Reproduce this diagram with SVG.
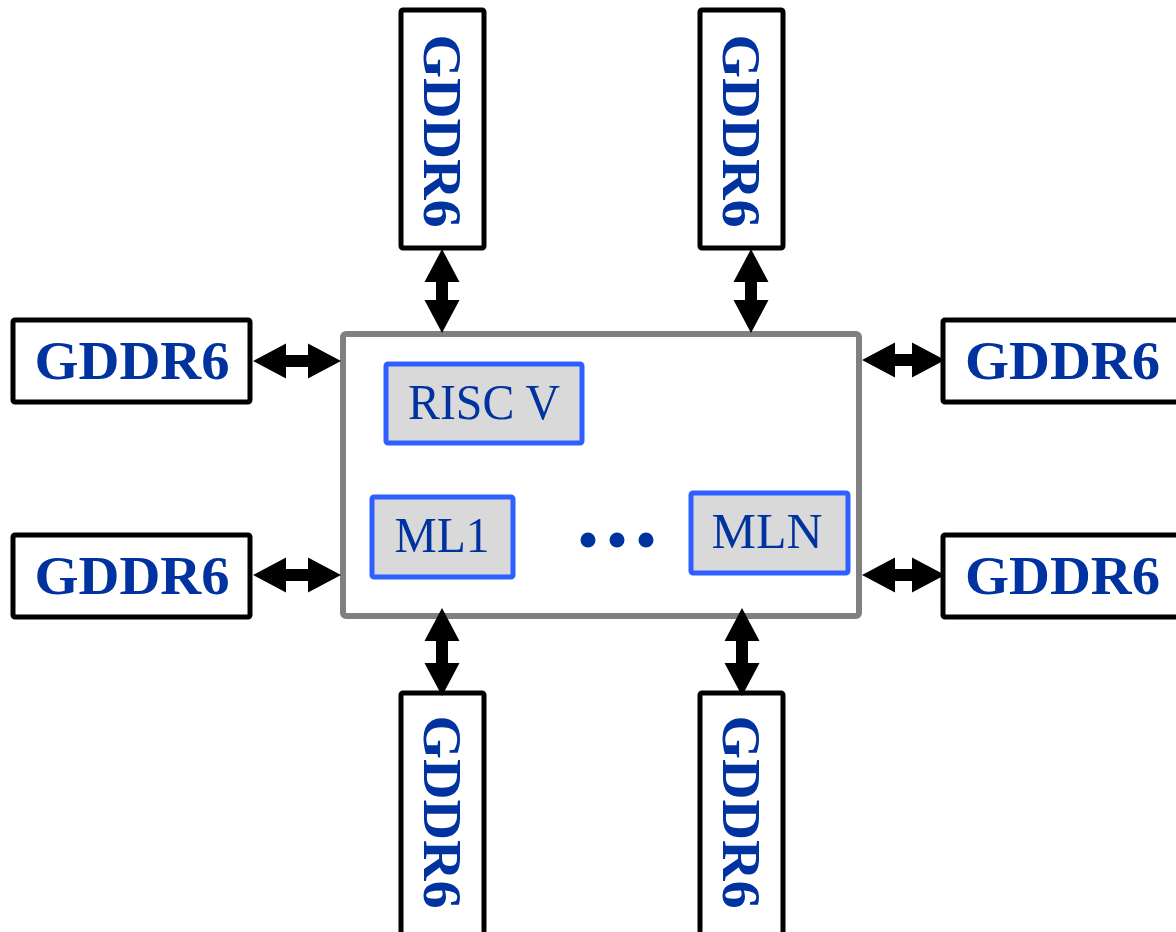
<svg xmlns="http://www.w3.org/2000/svg" width="1176" height="932" viewBox="0 0 1176 932">
  <style>
    .mem { fill: #ffffff; stroke: #000000; stroke-width: 5; }
    .memtxt { font-family: "Liberation Serif", "DejaVu Serif", serif; font-weight: bold; font-size: 54px; fill: #0033a0; }
    .chip { fill: #ffffff; stroke: #808080; stroke-width: 6; }
    .core { fill: #d9d9d9; stroke: #2f5fff; stroke-width: 5; }
    .coretxt { font-family: "Liberation Serif", "DejaVu Serif", serif; font-size: 50px; fill: #0033a0; text-anchor: middle; }
    .arrow { fill: #000000; }
  </style>

  <!-- Processor die -->
  <g id="chip">
    <rect class="chip" x="343" y="334" width="516" height="282" rx="3"/>
  </g>
  <g id="risc-v">
    <rect class="core" x="386" y="364" width="196" height="79" rx="2"/>
    <text class="coretxt" x="484" y="419" textLength="152" lengthAdjust="spacingAndGlyphs">RISC V</text>
  </g>
  <g id="ml1">
    <rect class="core" x="372" y="497" width="141" height="80" rx="2"/>
    <text class="coretxt" x="442" y="552" textLength="95" lengthAdjust="spacingAndGlyphs">ML1</text>
  </g>
  <g id="ellipsis">
    <circle cx="588" cy="540" r="7.5" fill="#0033a0"/>
    <circle cx="617" cy="540" r="7.5" fill="#0033a0"/>
    <circle cx="646" cy="540" r="7.5" fill="#0033a0"/>
  </g>
  <g id="mln">
    <rect class="core" x="691" y="493" width="157" height="80" rx="2"/>
    <text class="coretxt" x="767" y="548" textLength="111" lengthAdjust="spacingAndGlyphs">MLN</text>
  </g>

  <!-- Memory devices: top -->
  <g id="mem-top-left">
    <rect class="mem" x="401" y="10" width="83" height="238" rx="2"/>
    <text class="memtxt" transform="translate(442,131) rotate(90)" x="0" y="18" text-anchor="middle" textLength="193" lengthAdjust="spacingAndGlyphs">GDDR6</text>
  </g>
  <g id="mem-top-right">
    <rect class="mem" x="700" y="10" width="83" height="238" rx="2"/>
    <text class="memtxt" transform="translate(741,131) rotate(90)" x="0" y="18" text-anchor="middle" textLength="193" lengthAdjust="spacingAndGlyphs">GDDR6</text>
  </g>

  <!-- Memory devices: left -->
  <g id="mem-left-top">
    <rect class="mem" x="13" y="320" width="237" height="82" rx="2"/>
    <text class="memtxt" x="132" y="379" text-anchor="middle" textLength="195" lengthAdjust="spacingAndGlyphs">GDDR6</text>
  </g>
  <g id="mem-left-bottom">
    <rect class="mem" x="13" y="535" width="237" height="82" rx="2"/>
    <text class="memtxt" x="132" y="594" text-anchor="middle" textLength="195" lengthAdjust="spacingAndGlyphs">GDDR6</text>
  </g>

  <!-- Memory devices: right -->
  <g id="mem-right-top">
    <rect class="mem" x="943" y="320" width="260" height="82" rx="2"/>
    <text class="memtxt" x="965" y="379" textLength="195" lengthAdjust="spacingAndGlyphs">GDDR6</text>
  </g>
  <g id="mem-right-bottom">
    <rect class="mem" x="943" y="535" width="260" height="82" rx="2"/>
    <text class="memtxt" x="965" y="594" textLength="195" lengthAdjust="spacingAndGlyphs">GDDR6</text>
  </g>

  <!-- Memory devices: bottom -->
  <g id="mem-bottom-left">
    <rect class="mem" x="401" y="693" width="83" height="260" rx="2"/>
    <text class="memtxt" transform="translate(442,812) rotate(90)" x="0" y="18" text-anchor="middle" textLength="193" lengthAdjust="spacingAndGlyphs">GDDR6</text>
  </g>
  <g id="mem-bottom-right">
    <rect class="mem" x="700" y="693" width="83" height="260" rx="2"/>
    <text class="memtxt" transform="translate(741,812) rotate(90)" x="0" y="18" text-anchor="middle" textLength="193" lengthAdjust="spacingAndGlyphs">GDDR6</text>
  </g>

  <!-- Bidirectional links between die and memories -->
  <g id="connectors" class="arrow">
    <!-- vertical, top -->
    <path d="M442 249 L459.5 282 L448 282 L448 300 L459.5 300 L442 333 L424.5 300 L436 300 L436 282 L424.5 282 Z"/>
    <path d="M751 249 L768.5 282 L757 282 L757 300 L768.5 300 L751 333 L733.5 300 L745 300 L745 282 L733.5 282 Z"/>
    <!-- vertical, bottom -->
    <path d="M442 608 L459.5 641 L448 641 L448 663 L459.5 663 L442 696 L424.5 663 L436 663 L436 641 L424.5 641 Z"/>
    <path d="M742 608 L759.5 641 L748 641 L748 663 L759.5 663 L742 696 L724.5 663 L736 663 L736 641 L724.5 641 Z"/>
    <!-- horizontal, left -->
    <path d="M253 361 L286 343.5 L286 355 L308 355 L308 343.5 L341 361 L308 378.5 L308 367 L286 367 L286 378.5 Z"/>
    <path d="M253 575 L286 557.5 L286 569 L308 569 L308 557.5 L341 575 L308 592.5 L308 581 L286 581 L286 592.5 Z"/>
    <!-- horizontal, right -->
    <path d="M862 360 L895 342.5 L895 354 L912 354 L912 342.5 L945 360 L912 377.5 L912 366 L895 366 L895 377.5 Z"/>
    <path d="M862 575 L895 557.5 L895 569 L912 569 L912 557.5 L945 575 L912 592.5 L912 581 L895 581 L895 592.5 Z"/>
  </g>
</svg>
